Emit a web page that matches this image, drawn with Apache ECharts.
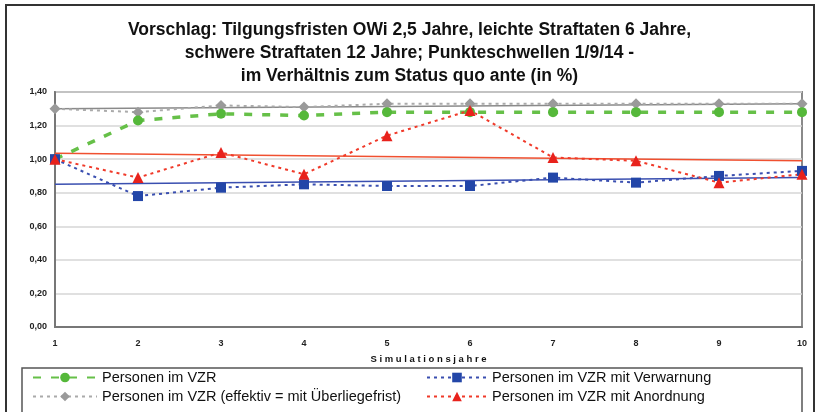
<!DOCTYPE html>
<html>
<head>
<meta charset="utf-8">
<script src="https://cdn.jsdelivr.net/npm/echarts@6/dist/echarts.min.js"></script>
<style>
  html, body { margin: 0; padding: 0; background: #fff; }
  #chart { width: 819px; height: 412px; }
</style>
</head>
<body>
<div id="chart"></div>
<script>
// Simulationsjahre
var jahre = ['1', '2', '3', '4', '5', '6', '7', '8', '9', '10'];

// Werte
var vzr = [1.00, 1.23, 1.27, 1.26, 1.28, 1.28, 1.28, 1.28, 1.28, 1.28];
var vzrEffektiv = [1.30, 1.28, 1.32, 1.31, 1.33, 1.33, 1.33, 1.33, 1.33, 1.33];
var vzrVerwarnung = [1.00, 0.78, 0.83, 0.85, 0.84, 0.84, 0.89, 0.86, 0.90, 0.93];
var vzrAnordnung = [1.00, 0.89, 1.04, 0.91, 1.14, 1.29, 1.01, 0.99, 0.86, 0.91];

var trendEffektiv = [1.30, null, null, null, null, null, null, null, null, 1.33];
var trendVerwarnung = [0.85, null, null, null, null, null, null, null, null, 0.89];
var trendAnordnung = [1.035, null, null, null, null, null, null, null, null, 0.99];

var myChart = echarts.init(document.getElementById('chart'));

function trend(data, color) {
    return {
        type: 'line',
        data: data,
        connectNulls: true,
        symbol: 'none',
        silent: true,
        z: 1,
        lineStyle: { color: color, width: 1.5, type: 'solid' }
    };
}

var font = 'Liberation Sans, Arial, sans-serif';

var legendBase = {
    orient: 'vertical',
    top: 370,
    height: 42,
    padding: 0,
    itemGap: 4,
    itemWidth: 64,
    itemHeight: 12,
    textStyle: { fontFamily: font, fontSize: 14.5, color: '#111', padding: [0, 0, 0, 0] }
};

var option = {
    animation: false,
    backgroundColor: '#fff',
    title: {
        text: 'Vorschlag: Tilgungsfristen OWi 2,5 Jahre, leichte Straftaten 6 Jahre,\nschwere Straftaten 12 Jahre; Punkteschwellen 1/9/14 -\nim Verhältnis zum Status quo ante (in %)',
        left: 'center',
        top: 14,
        textStyle: { fontFamily: font, fontSize: 17.5, fontWeight: 'bold', color: '#111', lineHeight: 23 }
    },
    graphic: [
        { type: 'rect', shape: { x: 6, y: 5, width: 808, height: 410 }, style: { fill: 'none', stroke: '#333', lineWidth: 2 }, silent: true },
        { type: 'rect', shape: { x: 22, y: 368, width: 780, height: 45 }, style: { fill: '#fff', stroke: '#555', lineWidth: 1.5 }, silent: true, z: -1 }
    ],
    grid: { left: 55, right: 17, top: 92, bottom: 85, show: true, borderColor: '#8a8a8a', borderWidth: 2 },
    legend: [
        Object.assign({}, legendBase, {
            data: ['Personen im VZR', 'Personen im VZR (effektiv = mit Überliegefrist)'],
            left: 32
        }),
        Object.assign({}, legendBase, {
            data: ['Personen im VZR mit Verwarnung', 'Personen im VZR mit Anordnung'],
            left: 426,
            itemWidth: 60
        })
    ],
    xAxis: {
        type: 'category',
        data: jahre,
        boundaryGap: false,
        name: 'S i m u l a t i o n s j a h r e',
        nameLocation: 'middle',
        nameGap: 27,
        nameTextStyle: { fontFamily: font, fontSize: 9.5, fontWeight: 'bold', color: '#111' },
        axisLine: { lineStyle: { color: '#777', width: 2 } },
        axisTick: { show: false },
        axisLabel: { fontFamily: font, fontSize: 9, color: '#222', margin: 12, fontWeight: 'bold' },
        splitLine: { show: false }
    },
    yAxis: {
        type: 'value',
        min: 0,
        max: 1.4,
        interval: 0.2,
        axisLine: { show: true, lineStyle: { color: '#777', width: 2 } },
        axisTick: { show: false },
        axisLabel: {
            fontFamily: font, fontSize: 9, color: '#222', margin: 8, fontWeight: 'bold',
            formatter: function (v) { return v.toFixed(2).replace('.', ','); }
        },
        splitLine: { lineStyle: { color: '#d6d6d6', width: 1.5 } }
    },
    series: [
        trend(trendEffektiv, '#8a8a8a'),
        trend(trendVerwarnung, '#3a4fb0'),
        trend(trendAnordnung, '#f05030'),
        {
            name: 'Personen im VZR (effektiv = mit Überliegefrist)',
            type: 'line',
            data: vzrEffektiv,
            symbol: 'diamond',
            symbolSize: 11,
            itemStyle: { color: '#9a9a9a' },
            lineStyle: { color: '#aaaaaa', width: 2, type: [3, 4] }
        },
        {
            name: 'Personen im VZR',
            type: 'line',
            data: vzr,
            symbol: 'circle',
            symbolSize: 10,
            itemStyle: { color: '#55b83a' },
            lineStyle: { color: '#66c048', width: 3.5, type: [8, 10] }
        },
        {
            name: 'Personen im VZR mit Verwarnung',
            type: 'line',
            data: vzrVerwarnung,
            symbol: 'rect',
            symbolSize: 10,
            itemStyle: { color: '#2346a8' },
            lineStyle: { color: '#3a4fb0', width: 2, type: [3, 4] }
        },
        {
            name: 'Personen im VZR mit Anordnung',
            type: 'line',
            data: vzrAnordnung,
            symbol: 'triangle',
            symbolSize: 11,
            itemStyle: { color: '#e8221c' },
            lineStyle: { color: '#f03a2a', width: 2, type: [3, 4] }
        }
    ]
};

myChart.setOption(option);
</script>
</body>
</html>
